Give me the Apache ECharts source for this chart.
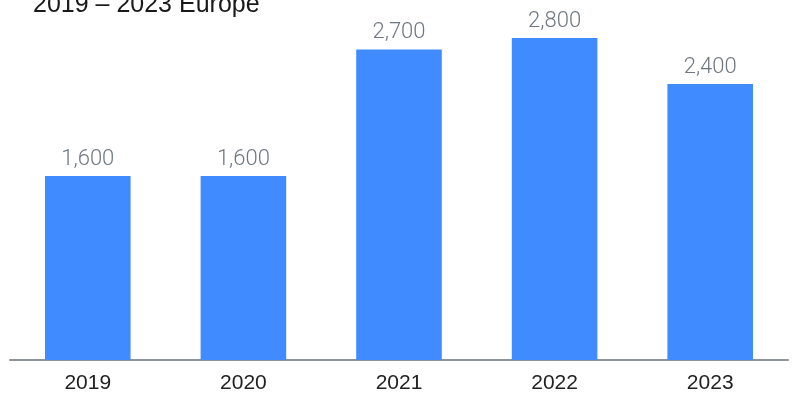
<!DOCTYPE html>
<html>
<head>
<meta charset="utf-8">
<script src="https://cdn.jsdelivr.net/npm/echarts@6/dist/echarts.min.js"></script>
<style>
  html, body { margin: 0; padding: 0; background: #fff; }
  #chart { width: 793px; height: 396px; }
</style>
</head>
<body>
<div id="chart"></div>
<script>
// data
const years = ['2019', '2020', '2021', '2022', '2023'];
const values = [1600, 1600, 2700, 2800, 2400];

const chart = echarts.init(document.getElementById('chart'));

chart.setOption({
  animation: false,
  title: {
    text: '2019 – 2023 Europe',
    left: 28,
    top: -12,
    textStyle: {
      fontFamily: 'Liberation Sans',
      fontSize: 25,
      fontWeight: 'normal',
      color: '#1a1a1a'
    }
  },
  grid: {
    left: 10,
    right: 5,
    top: 15,
    bottom: 36
  },
  xAxis: {
    type: 'category',
    data: years,
    axisLine: { lineStyle: { color: '#8c939b', width: 2 } },
    axisTick: { show: false },
    axisLabel: {
      margin: 13,
      fontFamily: 'Liberation Sans',
      fontSize: 21,
      color: '#222'
    }
  },
  yAxis: {
    type: 'value',
    min: 0,
    max: 3000,
    show: false,
    splitLine: { show: false }
  },
  series: [{
    type: 'bar',
    data: values,
    barWidth: '55%',
    itemStyle: { color: '#3f8bff' },
    label: {
      show: true,
      position: 'top',
      distance: 6,
      fontFamily: 'Roboto',
      fontSize: 22,
      fontWeight: 300,
      color: '#6e7781',
      formatter: p => p.value.toLocaleString('en-US')
    }
  }]
});
</script>
</body>
</html>
